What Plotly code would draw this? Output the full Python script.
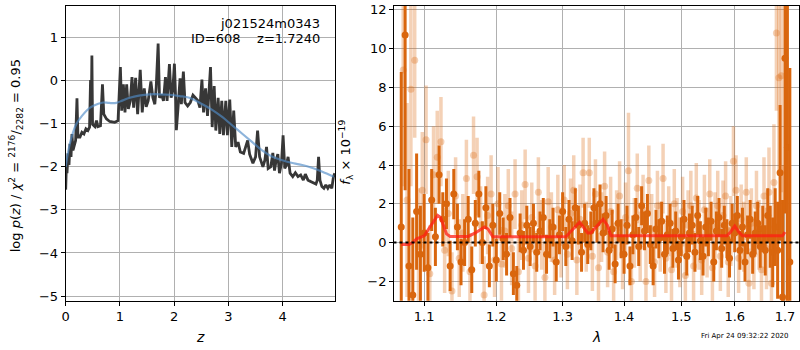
import plotly.graph_objects as go

# ---------------- left panel: log p(z) ----------------
z_grid = [0.000, 0.012, 0.024, 0.043, 0.061, 0.079, 0.098, 0.116, 0.134, 0.159, 0.183, 0.208, 0.226,
          0.263, 0.299, 0.336, 0.373, 0.409, 0.440, 0.458, 0.470, 0.483, 0.495, 0.538, 0.568, 0.593,
          0.641, 0.678, 0.702, 0.751, 0.812, 0.904, 0.965, 1.008, 1.032, 1.063, 1.093, 1.124, 1.155,
          1.191, 1.222, 1.252, 1.289, 1.326, 1.374, 1.411, 1.448, 1.484, 1.521, 1.570, 1.607, 1.643,
          1.668, 1.704, 1.729, 1.765, 1.802, 1.839, 1.869, 1.912, 1.943, 1.973, 2.004, 2.028, 2.040,
          2.071, 2.108, 2.132, 2.169, 2.199, 2.248, 2.297, 2.346, 2.389, 2.437, 2.474, 2.511, 2.541,
          2.578, 2.614, 2.669, 2.700, 2.737, 2.767, 2.810, 2.840, 2.877, 2.908, 2.951, 2.981, 3.024,
          3.061, 3.097, 3.134, 3.177, 3.219, 3.280, 3.317, 3.354, 3.390, 3.451, 3.500, 3.537, 3.574,
          3.635, 3.671, 3.702, 3.732, 3.781, 3.818, 3.849, 3.879, 3.910, 3.940, 3.977, 4.007, 4.038,
          4.069, 4.099, 4.136, 4.185, 4.233, 4.282, 4.331, 4.380, 4.417, 4.466, 4.514, 4.563, 4.612,
          4.637, 4.661, 4.686, 4.722, 4.759, 4.795, 4.832, 4.869, 4.905, 4.936, 4.960]
logp = [-2.53, -2.00, -2.15, -1.69, -1.96, -1.47, -1.77, -1.24, -1.62, -1.47, -1.39, -0.41, -1.31,
        -1.31, -1.20, -1.24, -1.12, -1.16, -1.08, 0.01, -0.93, 0.58, -1.02, -1.07, -0.93, -1.07,
        -1.05, -0.09, -0.78, -0.89, -0.95, -0.97, -0.93, 0.31, -0.70, -0.09, -0.74, -0.09, -0.66,
        -0.47, 0.08, -0.63, 0.06, -0.78, 0.25, -0.74, -0.18, -0.61, -0.47, -0.02, -0.40, -0.55,
        -0.17, 0.86, -0.40, -0.32, -0.47, 0.08, -0.47, 0.38, -0.40, -0.24, 0.39, -0.47, -1.15,
        -0.63, 0.05, -0.55, 0.21, -0.51, -0.59, -0.51, -0.34, -0.40, -0.47, -0.63, 0.02, -0.74,
        -0.18, -0.82, 0.31, -1.08, -0.13, -1.16, -0.40, -1.24, -0.47, -1.27, -0.47, -1.27, -0.44,
        -1.54, -0.70, -1.54, -1.43, -1.66, -1.69, -1.54, -1.39, -1.71, -1.92, -1.77, -1.16, -1.77,
        -2.00, -1.85, -1.54, -2.04, -2.00, -1.68, -2.09, -1.85, -1.71, -2.15, -1.92, -1.27, -2.04,
        -1.96, -1.77, -2.15, -2.23, -2.14, -2.23, -2.19, -2.31, -2.17, -2.31, -2.34, -2.37, -2.40,
        -2.31, -1.77, -2.31, -2.46, -2.50, -2.42, -2.50, -2.42, -2.50, -2.23, -2.15]

z_smooth = [0.0, 0.05, 0.1, 0.2, 0.3, 0.45, 0.6, 0.69, 0.8, 0.93, 1.05, 1.18, 1.35, 1.55, 1.75,
            1.91, 2.1, 2.28, 2.52, 2.7, 2.89, 3.05, 3.26, 3.45, 3.62, 3.8, 3.99, 4.2, 4.36, 4.55,
            4.72, 4.94]
logp_smooth = [-2.0, -1.62, -1.35, -1.0, -0.82, -0.63, -0.54, -0.51, -0.52, -0.52, -0.46, -0.40,
               -0.35, -0.32, -0.32, -0.33, -0.36, -0.40, -0.55, -0.68, -0.85, -1.02, -1.24, -1.44,
               -1.62, -1.76, -1.85, -1.92, -1.96, -2.03, -2.11, -2.23]

# ---------------- right panel: spectrum ----------------
wave_a = [1.070, 1.075, 1.080, 1.085, 1.090, 1.095, 1.100, 1.105, 1.110, 1.115, 1.120, 1.125, 1.130,
          1.135, 1.140, 1.145, 1.150, 1.155, 1.160, 1.165, 1.170, 1.175, 1.180, 1.185, 1.190, 1.195,
          1.200, 1.205, 1.210, 1.215, 1.220, 1.225, 1.230, 1.235, 1.240, 1.245, 1.250, 1.255, 1.260,
          1.265, 1.270, 1.275, 1.280, 1.285, 1.290, 1.295, 1.300, 1.305, 1.310, 1.315, 1.320, 1.325,
          1.330, 1.335, 1.340, 1.345, 1.350, 1.355, 1.360, 1.365, 1.370, 1.375, 1.380, 1.385, 1.390,
          1.395, 1.400, 1.405, 1.410, 1.415, 1.420, 1.425, 1.430, 1.435, 1.440, 1.445, 1.450, 1.455,
          1.460, 1.465, 1.470, 1.475, 1.480, 1.485, 1.490, 1.495, 1.500, 1.505, 1.510, 1.515, 1.520,
          1.525, 1.530, 1.535, 1.540, 1.545, 1.550, 1.555, 1.560, 1.565, 1.570, 1.575, 1.580, 1.585,
          1.590, 1.595, 1.600, 1.605, 1.610, 1.615, 1.620, 1.625, 1.630, 1.635, 1.640, 1.645, 1.650,
          1.655, 1.660, 1.665, 1.670, 1.675, 1.680, 1.685, 1.690, 1.695, 1.700, 1.705, 1.710]
flux_a = [0.8, 10.7, -1.2, -2.7, 1.6, -0.6, 0.5, -1.3, 2.2, 0.3, 3.5, 1.2, 2.0,
          -1.2, 2.5, 0.8, -1.0, 0.0, 1.2, -1.4, 1.0, 2.5, 0.0, 1.8, -1.2, 0.9,
          -0.9, 1.5, 0.2, -0.6, 1.3, -1.6, -2.2, 0.5, -0.4, 0.9, -0.2, 1.0, -0.5,
          0.6, 1.3, -0.6, 0.2, 0.8, -1.0, 0.4, 1.6, -0.2, 1.2, 0.1, 1.8, 0.9,
          -0.5, 1.0, -0.1, 0.6, 1.8, 1.0, 2.0, 0.5, 1.4, -0.4, 0.7, -1.1, 1.0,
          0.2, -0.6, 0.9, -1.2, 0.4, 1.3, -0.2, 1.9, 0.6, 1.5, -0.1, -1.2, 0.7,
          0.2, 1.1, -0.6, 0.4, 1.0, -0.3, 0.6, -0.9, 0.3, 1.2, -0.7, 0.5, 0.9,
          -0.5, 1.4, 0.1, -0.7, 0.8, 0.3, 1.1, -1.0, 0.6, 1.3, -0.3, 0.9, 0.2,
          -0.8, 1.0, 0.5, 1.4, -0.4, 0.8, -1.0, 0.4, 1.2, -0.6, 0.5, 1.0, -0.2,
          0.7, -0.4, 1.4, 0.3, -0.5, 0.8, -0.4, 3.6, -2.8, 9.5, 4.9, -1.0]
err_a = [8, 8, 5, 4, 3, 2.5, 2, 1.8, 1.6, 1.5, 1.5, 1.4, 1.3,
         1.3, 1.3, 1.2, 1.2, 1.2, 1.2, 1.2, 1.2, 1.2, 1.1, 1.1, 1.1, 1.1,
         1.1, 1.1, 1.1, 1.1, 1.0, 1.1, 1.0, 1.0, 1.0, 1.0, 1.0, 1.0, 1.0,
         1.0, 1.0, 1.0, 1.0, 1.0, 1.0, 1.0, 1.0, 1.0, 1.0, 1.0, 1.0, 1.0,
         1.0, 1.0, 1.0, 1.0, 1.0, 1.0, 1.0, 1.0, 1.0, 1.0, 1.0, 1.0, 1.0,
         1.0, 1.0, 1.0, 1.0, 1.0, 1.0, 1.0, 1.0, 1.0, 1.0, 1.0, 1.0, 1.0,
         1.0, 1.0, 1.0, 1.0, 1.0, 1.0, 1.0, 1.0, 1.0, 1.0, 1.0, 1.0, 1.0,
         1.0, 1.0, 1.0, 1.0, 1.0, 1.0, 1.0, 1.0, 1.0, 1.0, 1.0, 1.0, 1.0,
         1.0, 1.0, 1.0, 1.0, 1.0, 1.0, 1.0, 1.0, 1.0, 1.0, 1.1, 1.1, 1.1,
         1.2, 1.3, 1.4, 1.6, 1.8, 2.0, 2.5, 3.5, 5, 8, 9, 10]

wave_b = [1.0725, 1.0775, 1.0825, 1.0875, 1.0925, 1.0975, 1.1025, 1.1075, 1.1125, 1.1175, 1.1225,
          1.1275, 1.1325, 1.1375, 1.1425, 1.1475, 1.1525, 1.1575, 1.1625, 1.1675, 1.1725, 1.1775,
          1.1825, 1.1875, 1.1925, 1.1975, 1.2025, 1.2075, 1.2125, 1.2175, 1.2225, 1.2275, 1.2325,
          1.2375, 1.2425, 1.2475, 1.2525, 1.2575, 1.2625, 1.2675, 1.2725, 1.2775, 1.2825, 1.2875,
          1.2925, 1.2975, 1.3025, 1.3075, 1.3125, 1.3175, 1.3225, 1.3275, 1.3325, 1.3375, 1.3425,
          1.3475, 1.3525, 1.3575, 1.3625, 1.3675, 1.3725, 1.3775, 1.3825, 1.3875, 1.3925, 1.3975,
          1.4025, 1.4075, 1.4125, 1.4175, 1.4225, 1.4275, 1.4325, 1.4375, 1.4425, 1.4475, 1.4525,
          1.4575, 1.4625, 1.4675, 1.4725, 1.4775, 1.4825, 1.4875, 1.4925, 1.4975, 1.5025, 1.5075,
          1.5125, 1.5175, 1.5225, 1.5275, 1.5325, 1.5375, 1.5425, 1.5475, 1.5525, 1.5575, 1.5625,
          1.5675, 1.5725, 1.5775, 1.5825, 1.5875, 1.5925, 1.5975, 1.6025, 1.6075, 1.6125, 1.6175,
          1.6225, 1.6275, 1.6325, 1.6375, 1.6425, 1.6475, 1.6525, 1.6575, 1.6625, 1.6675, 1.6725,
          1.6775, 1.6825, 1.6875, 1.6925, 1.6975]
flux_b = [8.9, 2.2, 7.9, 9.4, -0.2, 2.7, 5.3, -1.6, 3.5, 4.4, 5.2,
          -0.4, 1.5, -2.5, 2.4, -0.8, 0.5, 3.3, -1.5, 4.5, 3.4, 0.9,
          -2.7, 1.4, 2.5, -0.9, 2.0, -1.1, 0.6, 1.9, -0.3, 2.5, -1.5,
          0.9, 3.0, -0.8, 1.3, -1.2, 2.6, 0.4, -1.8, 2.1, 0.8, -0.9,
          1.7, 0.0, 2.2, -0.6, 1.5, 2.7, -0.9, 1.2, 3.6, 0.3, 3.6,
          -0.7, 2.5, -1.3, 0.8, 2.9, -0.5, 1.6, -1.5, 0.9, 2.4, -0.6,
          1.3, 3.7, -2.0, 0.5, 2.8, -0.2, 1.7, -2.0, 3.2, 0.7, -1.0,
          1.9, 0.3, 3.3, -0.8, 1.1, -1.4, 2.0, 0.5, -0.5, 1.6, -1.7,
          0.9, 1.9, -1.2, 2.3, 0.4, -0.9, 1.7, 0.0, 2.5, -1.3, 0.8,
          1.9, -0.7, 1.4, 2.4, -1.0, 0.6, 4.2, 2.7, -0.8, 1.2, 0.3,
          2.6, -2.1, 1.0, -0.6, 1.9, 0.4, -1.4, 2.4, -0.3, 2.6, -2.1,
          3.1, 10.8, 8.5, 8.6, -3.0]
err_b = [6, 5, 5, 4, 3, 3, 2.8, 2.5, 2.5, 2.4, 2.3,
         2.2, 2.2, 2.0, 2.0, 2.0, 2.0, 2.0, 2.0, 2.0, 2.0, 2.0,
         2.0, 2.0, 2.0, 1.9, 1.9, 1.9, 1.9, 1.9, 1.9, 1.8, 1.8,
         1.8, 1.8, 1.8, 1.8, 1.8, 1.8, 1.8, 1.8, 1.8, 1.8, 1.8,
         1.8, 1.8, 1.8, 1.8, 1.8, 1.8, 1.8, 1.8, 1.8, 1.8, 1.8,
         1.8, 1.8, 1.8, 1.8, 1.8, 1.8, 1.8, 1.8, 1.8, 1.8, 1.8,
         1.8, 3.0, 1.8, 1.8, 1.8, 1.8, 1.8, 1.8, 1.8, 1.8, 1.8,
         1.8, 1.8, 1.8, 1.8, 1.8, 1.8, 1.8, 1.8, 1.8, 1.8, 1.8,
         1.8, 1.8, 1.8, 1.8, 1.8, 1.8, 1.8, 1.8, 1.8, 1.8, 1.8,
         1.8, 1.8, 1.8, 1.8, 1.8, 1.8, 1.8, 1.8, 1.8, 1.8, 1.8,
         1.8, 1.8, 1.8, 1.8, 1.8, 1.8, 1.9, 2.0, 2.1, 2.3, 2.5,
         3.0, 4.0, 5.0, 6.0, 7.0]

wave_model = [1.070, 1.080, 1.085, 1.090, 1.100, 1.110, 1.118, 1.122, 1.130, 1.135, 1.160, 1.170,
              1.183, 1.188, 1.195, 1.250, 1.305, 1.312, 1.327, 1.340, 1.345, 1.355, 1.365, 1.372,
              1.378, 1.450, 1.520, 1.585, 1.592, 1.600, 1.608, 1.615, 1.650, 1.695, 1.700]
flux_model = [-0.1, -0.1, 0.0, 0.2, 0.35, 0.9, 1.4, 1.3, 0.45, 0.32, 0.32, 0.5,
              0.8, 0.7, 0.3, 0.3, 0.3, 0.55, 1.05, 0.5, 0.5, 0.85, 1.2, 0.9,
              0.35, 0.35, 0.35, 0.35, 0.55, 0.85, 0.55, 0.35, 0.35, 0.35, 0.55]

ORANGE = "rgb(217,102,14)"
ORANGE_LIGHT = "rgba(217,102,14,0.3)"
FONT = "DejaVu Sans"

fig = go.Figure()

fig.add_trace(go.Scatter(x=z_grid, y=logp, mode="lines", xaxis="x", yaxis="y",
                         line=dict(color="rgb(55,55,55)", width=2.8), showlegend=False))
fig.add_trace(go.Scatter(x=z_smooth, y=logp_smooth, mode="lines", xaxis="x", yaxis="y",
                         line=dict(color="rgba(80,140,200,0.65)", width=2.2, shape="spline"),
                         showlegend=False))

fig.add_trace(go.Scatter(x=wave_a, y=flux_a, mode="markers", xaxis="x2", yaxis="y2",
                         marker=dict(color=ORANGE, size=7),
                         error_y=dict(type="data", array=err_a, color=ORANGE, thickness=3, width=0),
                         showlegend=False))
fig.add_trace(go.Scatter(x=wave_b, y=flux_b, mode="markers", xaxis="x2", yaxis="y2",
                         marker=dict(color=ORANGE_LIGHT, size=7),
                         error_y=dict(type="data", array=err_b, color=ORANGE_LIGHT, thickness=3.5, width=0),
                         showlegend=False))
fig.add_trace(go.Scatter(x=wave_model, y=flux_model, mode="lines", xaxis="x2", yaxis="y2",
                         line=dict(color="rgba(255,30,20,0.75)", width=3), showlegend=False))
fig.add_trace(go.Scatter(x=[1.06, 1.73], y=[0, 0], mode="lines", xaxis="x2", yaxis="y2",
                         line=dict(color="black", width=2, dash="dot"), showlegend=False))

axis_common = dict(showline=True, linecolor="black", linewidth=1, mirror=True,
                   ticks="outside", ticklen=4, tickcolor="black",
                   showgrid=True, gridcolor="#b0b0b0", gridwidth=1, zeroline=False,
                   ticklabeloverflow="allow",
                   tickfont=dict(family=FONT, size=13, color="black"))

fig.update_layout(
    width=800, height=350,
    margin=dict(l=0, r=0, t=0, b=0),
    paper_bgcolor="white", plot_bgcolor="white",
    font=dict(family=FONT, size=13, color="black"),
    xaxis=dict(domain=[62/800, 333/800], range=[0, 4.97], tickvals=[0, 1, 2, 3, 4], anchor="y",
               **axis_common),
    yaxis=dict(domain=[1-303/350, 1-3/350], range=[-5.11, 1.73], tickvals=[-5, -4, -3, -2, -1, 0, 1],
               anchor="x", **axis_common),
    xaxis2=dict(domain=[392/800, 799/800], type="log", range=[0.0256, 0.2378],
                tickvals=[1.1, 1.2, 1.3, 1.4, 1.5, 1.6, 1.7],
                ticktext=["1.1", "1.2", "1.3", "1.4", "1.5", "1.6", "1.7"], anchor="y2",
                **axis_common),
    yaxis2=dict(domain=[1-303/350, 1-3/350], range=[-3.0, 12.2],
                tickvals=[-2, 0, 2, 4, 6, 8, 10, 12], anchor="x2", **axis_common),
)

ann = [
    dict(text="j021524m0343", x=320/800, y=1-21/350, xanchor="right", yanchor="middle",
         font=dict(size=13)),
    dict(text="ID=608\u00a0\u00a0\u00a0\u00a0z=1.7240", x=320/800, y=1-36/350, xanchor="right",
         yanchor="middle", font=dict(size=13)),
    dict(text="log <i>p</i>(<i>z</i>) / <i>χ</i><sup>2</sup> = <sup>2176</sup>/<sub>2282</sub> = 0.95",
         x=12/800, y=1-155/350, textangle=-90, xanchor="center", yanchor="middle",
         font=dict(size=13)),
    dict(text="<i>z</i>", x=197/800, y=1-340/350, xanchor="center", yanchor="middle",
         font=dict(size=14)),
    dict(text="<i>f</i><sub>λ</sub> × 10<sup>−19</sup>", x=344/800, y=1-152/350, textangle=-90,
         xanchor="center", yanchor="middle", font=dict(size=13)),
    dict(text="<i>λ</i>", x=595/800, y=1-340/350, xanchor="center", yanchor="middle",
         font=dict(size=14)),
    dict(text="Fri Apr 24 09:32:22 2020", x=745/800, y=1-339/350, xanchor="center",
         yanchor="middle", font=dict(size=7)),
]
for a in ann:
    a.update(xref="paper", yref="paper", showarrow=False)
fig.update_layout(annotations=ann)

fig.write_html("out.html")
